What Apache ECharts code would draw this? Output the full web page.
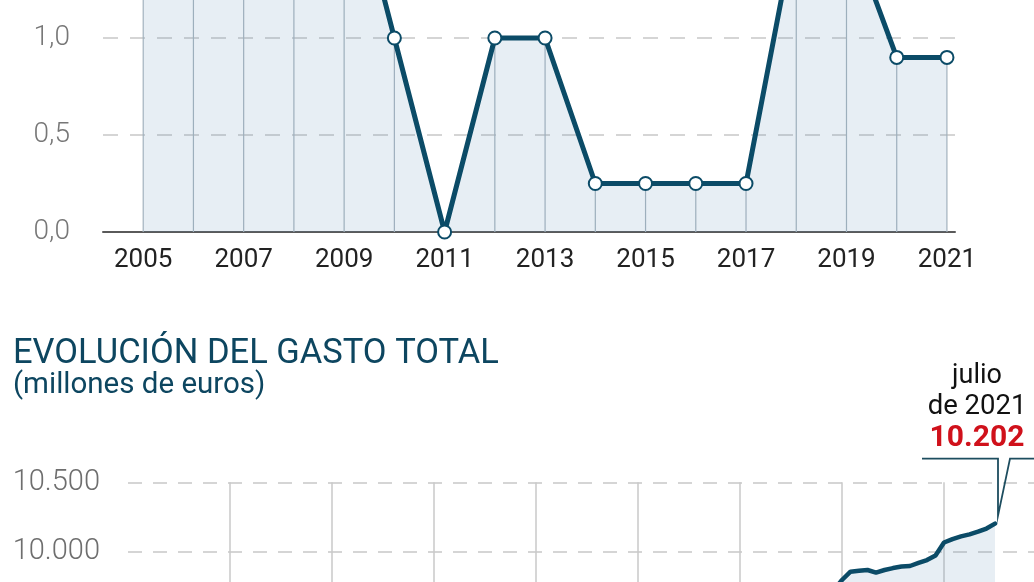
<!DOCTYPE html>
<html>
<head>
<meta charset="utf-8">
<script src="https://cdn.jsdelivr.net/npm/echarts@6/dist/echarts.min.js"></script>
<style>
html,body{margin:0;padding:0;background:#fff;}
#main{width:1034px;height:582px;}
</style>
</head>
<body>
<div id="main"></div>
<script>
// ---- Top chart: revalorización anual (%) ----
const years = [2005,2006,2007,2008,2009,2010,2011,2012,2013,2014,2015,2016,2017,2018,2019,2020,2021];
const revalorizacion = [2,2,2,2,2,1,0,1,1,0.25,0.25,0.25,0.25,1.6,1.6,0.9,0.9];
const yearLabels = [2005,2007,2009,2011,2013,2015,2017,2019,2021];

// ---- Bottom chart: gasto total mensual (millones de euros) ----
const gastoMeses = ['2019-12','2020-01','2020-02','2020-03','2020-04','2020-05','2020-06','2020-07','2020-08','2020-09','2020-10','2020-11','2020-12','2021-01','2021-02','2021-03','2021-04','2021-05','2021-06','2021-07'];
const gastoValores = [9720,9796,9856,9862,9868,9849,9868,9882,9893,9897,9919,9940,9973,10066,10091,10110,10125,10144,10167,10202];

const titulo = 'EVOLUCIÓN DEL GASTO TOTAL';
const subtitulo = '(millones de euros)';
const notaLinea1 = 'julio';
const notaLinea2 = 'de 2021';

const LINE = '#0b4b67';
const AREA = 'rgba(95,140,180,0.21)';
const FONT = 'Roboto, "Liberation Sans", sans-serif';

function fmtMiles(v){ return String(v).replace(/\B(?=(\d{3})+(?!\d))/g, '.'); }
function mesToX(s){ const p = s.split('-'); return +p[0] + (+p[1]-1)/12; }

const topData = years.map((y,i)=>[y, revalorizacion[i]]);
const botData = gastoMeses.map((m,i)=>[mesToX(m), gastoValores[i]]);

const chart = echarts.init(document.getElementById('main'), null, {renderer:'canvas'});
chart.setOption({
  animation:false,
  backgroundColor:'#fff',
  textStyle:{fontFamily:FONT},
  grid:[
    {left:103, top:-156, width:852, height:388, outerBoundsMode:'none', containLabel:false},
    {left:128, top:482.3, width:918, height:208.2, outerBoundsMode:'none', containLabel:false}
  ],
  xAxis:[
    {type:'value', gridIndex:0, min:2004.2, max:2021.16,
     axisLine:{show:true, lineStyle:{color:'#5a5a5a', width:2}},
     axisTick:{show:false},
     splitLine:{show:false},
     axisLabel:{customValues:yearLabels, formatter:v=>String(v), color:'#222', fontSize:26, fontFamily:FONT, margin:15}
    },
    {type:'value', gridIndex:1, min:2013, max:2022, interval:1,
     axisLine:{show:false}, axisTick:{show:false},
     splitLine:{show:true, showMinLine:false, lineStyle:{color:'#c9c9c9', width:1.5}},
     axisLabel:{show:false}
    }
  ],
  yAxis:[
    {type:'value', gridIndex:0, min:0, max:2, interval:0.5,
     axisLine:{show:false}, axisTick:{show:false},
     splitLine:{show:true, lineStyle:{color:'#c8c8c8', type:[15,12], width:1.5}},
     axisLabel:{formatter:v=>v.toFixed(1).replace('.',','), color:'#777', fontSize:28, fontWeight:300, fontFamily:FONT, margin:33}
    },
    {type:'value', gridIndex:1, min:9000, max:10500, interval:500,
     axisLine:{show:false}, axisTick:{show:false},
     splitLine:{show:true, lineStyle:{color:'#c8c8c8', type:[14,11], width:1.5}},
     axisLabel:{formatter:v=>fmtMiles(v), color:'#6e6e6e', fontSize:29, fontWeight:300, fontFamily:FONT, margin:28}
    }
  ],
  series:[
    {type:'bar', xAxisIndex:0, yAxisIndex:0, data:topData, barWidth:1.2, silent:true,
     itemStyle:{color:'#a9b5be'}},
    {type:'line', xAxisIndex:0, yAxisIndex:0, data:topData,
     symbol:'circle', symbolSize:13,
     itemStyle:{color:'#fff', borderColor:LINE, borderWidth:2},
     lineStyle:{color:LINE, width:5},
     areaStyle:{color:AREA}, z:3},
    {type:'line', xAxisIndex:1, yAxisIndex:1, data:botData,
     symbol:'none', lineStyle:{color:LINE, width:4.5, cap:'round'},
     areaStyle:{color:AREA}, z:3}
  ]
});

const last = botData[botData.length-1];
const pt = chart.convertToPixel({seriesIndex:2}, last);
const px = pt[0], py = pt[1];
chart.setOption({
  graphic:[
    {type:'text', left:13, top:337, style:{text:titulo, fontSize:34.5, fontFamily:FONT, fill:'#0d4660'}},
    {type:'text', left:13, top:371, style:{text:subtitulo, fontSize:29.5, fontFamily:FONT, fill:'#0d4660'}},
    {type:'text', x:px-18, y:py-147, style:{text:notaLinea1, fontSize:27, fontFamily:FONT, fill:'#111', align:'center', verticalAlign:'middle'}},
    {type:'text', x:px-18, y:py-117, style:{text:notaLinea2, fontSize:27.5, fontFamily:FONT, fill:'#111', align:'center', verticalAlign:'middle'}},
    {type:'text', x:px-18, y:py-85, style:{text:fmtMiles(last[1]), fontSize:30, fontWeight:'bold', fontFamily:FONT, fill:'#d0111b', align:'center', verticalAlign:'middle'}},
    {type:'polyline', shape:{points:[[px-73,py-65],[px+3,py-65],[px+3,py-8],[px+15,py-65],[px+60,py-65]]},
     style:{stroke:'#1d4d5f', lineWidth:1.8, fill:null}}
  ]
});
</script>
</body>
</html>
